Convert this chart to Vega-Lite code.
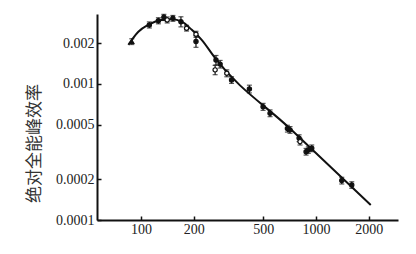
{
  "$schema": "https://vega.github.io/schema/vega-lite/v6.json",
  "width": 301,
  "height": 206,
  "autosize": {"type": "none"},
  "padding": {"left": 97, "top": 14, "right": 18, "bottom": 34},
  "background": "white",
  "config": {
    "view": {"stroke": null},
    "axis": {"grid": false, "domainColor": "#111", "domainWidth": 2, "tickColor": "#111", "tickWidth": 1.5, "labelFont": "Liberation Serif", "labelFontSize": 14, "labelColor": "#222"}
  },
  "datasets": {
    "points": [
      {"E": 88.5, "eff": 0.00205, "lo": 0.00195, "hi": 0.00215, "kind": "tri"},
      {"E": 111.5, "eff": 0.00272, "lo": 0.00258, "hi": 0.00286, "kind": "filled"},
      {"E": 125.6, "eff": 0.00292, "lo": 0.00277, "hi": 0.00307, "kind": "filled"},
      {"E": 135, "eff": 0.00309, "lo": 0.00293, "hi": 0.00325, "kind": "filled"},
      {"E": 141, "eff": 0.00296, "lo": 0.00281, "hi": 0.00311, "kind": "open"},
      {"E": 152, "eff": 0.00304, "lo": 0.00289, "hi": 0.00319, "kind": "filled"},
      {"E": 169, "eff": 0.00287, "lo": 0.00263, "hi": 0.00312, "kind": "filled"},
      {"E": 182, "eff": 0.00257, "lo": 0.00245, "hi": 0.0027, "kind": "open"},
      {"E": 206, "eff": 0.00232, "lo": 0.0022, "hi": 0.00244, "kind": "open"},
      {"E": 206, "eff": 0.00205, "lo": 0.00186, "hi": 0.00226, "kind": "filled"},
      {"E": 268, "eff": 0.0015, "lo": 0.00138, "hi": 0.00162, "kind": "filled"},
      {"E": 265, "eff": 0.00127, "lo": 0.00117, "hi": 0.00137, "kind": "open"},
      {"E": 283, "eff": 0.0014, "lo": 0.00131, "hi": 0.00149, "kind": "filled"},
      {"E": 309, "eff": 0.0012, "lo": 0.00113, "hi": 0.00127, "kind": "open"},
      {"E": 329, "eff": 0.00107, "lo": 0.00101, "hi": 0.00113, "kind": "filled"},
      {"E": 416, "eff": 0.00092, "lo": 0.00086, "hi": 0.00098, "kind": "filled"},
      {"E": 498, "eff": 0.00068, "lo": 0.00064, "hi": 0.00072, "kind": "filled"},
      {"E": 546, "eff": 0.00061, "lo": 0.000575, "hi": 0.000645, "kind": "filled"},
      {"E": 686, "eff": 0.00047, "lo": 0.000443, "hi": 0.000497, "kind": "filled"},
      {"E": 710, "eff": 0.00046, "lo": 0.000434, "hi": 0.000486, "kind": "filled"},
      {"E": 800, "eff": 0.0004, "lo": 0.000377, "hi": 0.000423, "kind": "filled"},
      {"E": 810, "eff": 0.000377, "lo": 0.000356, "hi": 0.000398, "kind": "open"},
      {"E": 877, "eff": 0.000318, "lo": 0.0003, "hi": 0.000336, "kind": "filled"},
      {"E": 903, "eff": 0.000327, "lo": 0.000309, "hi": 0.000345, "kind": "filled"},
      {"E": 945, "eff": 0.000337, "lo": 0.000318, "hi": 0.000356, "kind": "filled"},
      {"E": 1403, "eff": 0.000195, "lo": 0.000184, "hi": 0.000206, "kind": "filled"},
      {"E": 1600, "eff": 0.000181, "lo": 0.000171, "hi": 0.000191, "kind": "filled"}
    ],
    "curve": [
      {"E": 84.6, "eff": 0.00194},
      {"E": 96.5, "eff": 0.00242},
      {"E": 110, "eff": 0.00272},
      {"E": 131, "eff": 0.00296},
      {"E": 150, "eff": 0.00299},
      {"E": 171, "eff": 0.00287},
      {"E": 195, "eff": 0.0025},
      {"E": 222, "eff": 0.00211},
      {"E": 265, "eff": 0.00155},
      {"E": 710, "eff": 0.00047},
      {"E": 2054, "eff": 0.000129}
    ]
  },
  "layer": [
    {
      "data": {"name": "curve"},
      "mark": {"type": "line", "color": "#111", "strokeWidth": 2, "interpolate": "monotone"},
      "encoding": {
        "x": {
          "field": "E", "type": "quantitative",
          "scale": {"type": "log", "domain": [56, 2940], "nice": false},
          "axis": {"values": [100, 200, 500, 1000, 2000], "format": "d", "title": null, "tickSize": -4, "labelPadding": 6, "labelFont": "Liberation Serif", "labelFontSize": 14}
        },
        "y": {
          "field": "eff", "type": "quantitative",
          "scale": {"type": "log", "domain": [0.0001, 0.00327], "nice": false},
          "axis": {"values": [0.0001, 0.0002, 0.0005, 0.001, 0.002], "format": ".4~f", "title": "绝对全能峰效率", "titleFont": "Noto Sans CJK SC", "titleFontSize": 17, "titleFontWeight": "normal", "titleColor": "#333", "titleY": 129, "titlePadding": 12, "tickSize": -4, "labelPadding": 7, "labelFont": "Liberation Serif", "labelFontSize": 14}
        }
      }
    },
    {
      "data": {"name": "points"},
      "mark": {"type": "rule", "color": "#111", "strokeWidth": 1.2},
      "encoding": {
        "x": {"field": "E", "type": "quantitative"},
        "y": {"field": "lo", "type": "quantitative"},
        "y2": {"field": "hi"}
      }
    },
    {
      "data": {"name": "points"},
      "mark": {"type": "tick", "orient": "horizontal", "color": "#111", "size": 5, "thickness": 1.2},
      "encoding": {
        "x": {"field": "E", "type": "quantitative"},
        "y": {"field": "lo", "type": "quantitative"}
      }
    },
    {
      "data": {"name": "points"},
      "mark": {"type": "tick", "orient": "horizontal", "color": "#111", "size": 5, "thickness": 1.2},
      "encoding": {
        "x": {"field": "E", "type": "quantitative"},
        "y": {"field": "hi", "type": "quantitative"}
      }
    },
    {
      "data": {"name": "points"},
      "mark": {"type": "point", "filled": true, "stroke": "#111", "strokeWidth": 1.2, "size": 18, "opacity": 1},
      "encoding": {
        "x": {"field": "E", "type": "quantitative"},
        "y": {"field": "eff", "type": "quantitative"},
        "fill": {"field": "kind", "type": "nominal", "scale": {"domain": ["filled", "open", "tri"], "range": ["#111", "white", "#111"]}, "legend": null},
        "shape": {"field": "kind", "type": "nominal", "scale": {"domain": ["filled", "open", "tri"], "range": ["circle", "circle", "triangle-up"]}, "legend": null}
      }
    }
  ]
}
